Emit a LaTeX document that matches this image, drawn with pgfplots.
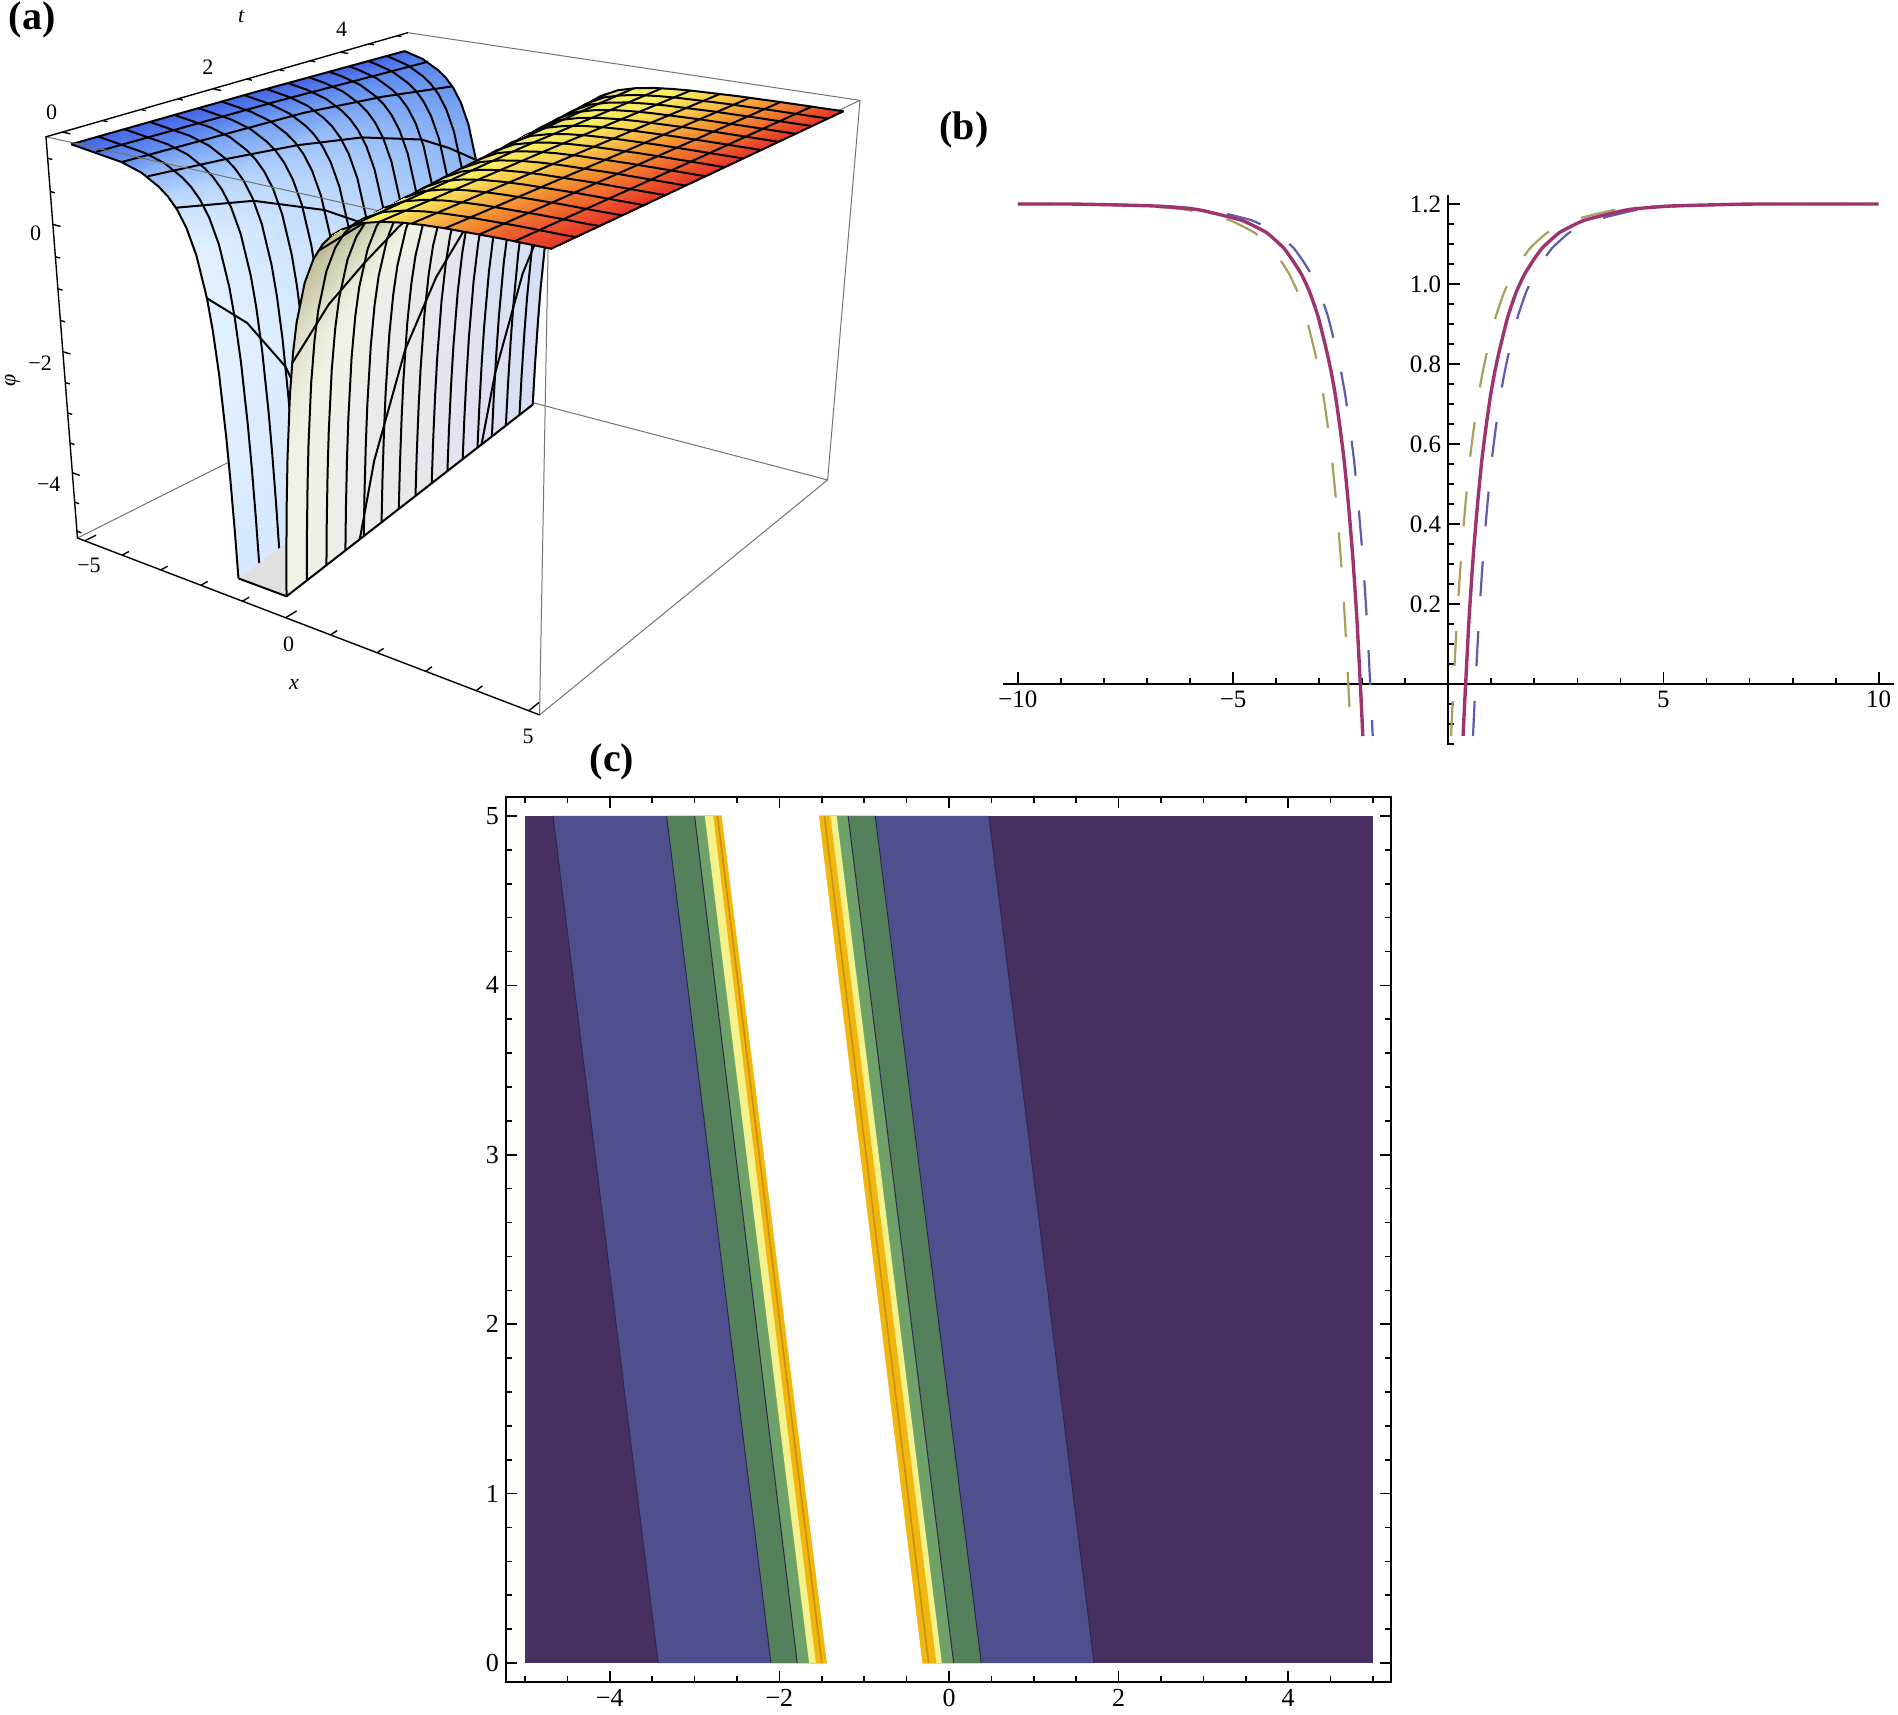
\documentclass[border=0pt]{standalone}
\usepackage{fontspec}
\setmainfont{Liberation Serif}
\usepackage{pgfplots}
\usepackage{pgfplotstable}
\pgfplotsset{compat=1.18}

% panel (a): surface, columns follow the trough, 3 points each at t=0, 2.5, 5
\pgfplotstableread{
x t phi m
-5 0 1.165 .02
-5 2.5 1.135 .02
-5 5 1.07 .02
-3.675 0 1.06 .10
-4.3 2.5 1.06 .07
-4.925 5 1.06 .03
-3.275 0 .98 .16
-3.9 2.5 .98 .11
-4.525 5 .98 .06
-2.875 0 .83 .20
-3.5 2.5 .83 .14
-4.125 5 .83 .08
-2.675 0 .72 .23
-3.3 2.5 .72 .17
-3.925 5 .72 .09
-2.475 0 .56 .26
-3.1 2.5 .56 .19
-3.725 5 .56 .10
-2.275 0 .32 .28
-2.9 2.5 .32 .21
-3.525 5 .32 .12
-2.075 0 -.05 .30
-2.7 2.5 -.05 .23
-3.325 5 -.05 .14
-1.875 0 -.66 .30
-2.5 2.5 -.66 .25
-3.125 5 -.66 .16
-1.775 0 -1.13 .30
-2.4 2.5 -1.13 .26
-3.025 5 -1.13 .18
-1.675 0 -1.79 .30
-2.3 2.5 -1.79 .27
-2.925 5 -1.79 .20
-1.575 0 -2.76 .29
-2.2 2.5 -2.76 .27
-2.825 5 -2.76 .22
-1.525 0 -3.42 .29
-2.15 2.5 -3.42 .27
-2.775 5 -3.42 .22
-1.475 0 -4.25 .28
-2.1 2.5 -4.25 .27
-2.725 5 -4.25 .22
-1.44 0 -5 .28
-2.065 2.5 -5 .27
-2.69 5 -5 .22
}\surfL
\pgfplotstableread{
x t phi m
-.31 0 -5 .50
-.935 2.5 -5 .46
-1.56 5 -5 .42
-.275 0 -4.25 .50
-.9 2.5 -4.25 .46
-1.525 5 -4.25 .42
-.225 0 -3.42 .50
-.85 2.5 -3.42 .46
-1.475 5 -3.42 .42
-.175 0 -2.76 .50
-.8 2.5 -2.76 .46
-1.425 5 -2.76 .42
-.075 0 -1.79 .51
-.7 2.5 -1.79 .46
-1.325 5 -1.79 .42
.025 0 -1.13 .52
-.6 2.5 -1.13 .46
-1.225 5 -1.13 .42
.125 0 -.66 .53
-.5 2.5 -.66 .47
-1.125 5 -.66 .42
.325 0 -.05 .55
-.3 2.5 -.05 .48
-.925 5 -.05 .42
.525 0 .32 .56
-.1 2.5 .32 .50
-.725 5 .32 .43
.725 0 .56 .57
.1 2.5 .56 .52
-.525 5 .56 .45
.925 0 .72 .60
.3 2.5 .72 .55
-.325 5 .72 .50
1.125 0 .83 .62
.5 2.5 .83 .58
-.125 5 .83 .55
}\surfW
\pgfplotstableread{
x t phi m
.925 0 .72 .60
.3 2.5 .72 .58
-.325 5 .72 .58
1.125 0 .83 .62
.5 2.5 .83 .60
-.125 5 .83 .60
1.525 0 .98 .65
.9 2.5 .98 .63
.275 5 .98 .62
1.925 0 1.06 .67
1.3 2.5 1.06 .65
.675 5 1.06 .65
2.325 0 1.11 .71
1.7 2.5 1.11 .67
1.075 5 1.11 .65
2.725 0 1.14 .75
2.1 2.5 1.14 .69
1.475 5 1.14 .65
3.125 0 1.16 .79
2.5 2.5 1.16 .72
1.875 5 1.16 .66
4.125 0 1.186 .92
3.5 2.5 1.186 .82
2.875 5 1.186 .73
5 0 1.195 1
4.375 2.5 1.195 .92
3.75 5 1.195 .82
5 0 1.195 1
5 2.5 1.2 1
5 5 1.2 1
}\surfP

% profile across the trough
\pgfplotstableread{
xi phi
-2.875 1.07
-2.4 .98
-2 .83
-1.8 .72
-1.6 .56
-1.4 .32
-1.2 -.05
-1 -.66
-.9 -1.13
-.8 -1.79
-.7 -2.76
-.65 -3.42
-.6 -4.25
-.565 -5
}\proL
\pgfplotstableread{
xi phi
.565 -5
.6 -4.25
.65 -3.42
.7 -2.76
.8 -1.79
.9 -1.13
1 -.66
1.2 -.05
1.4 .32
1.6 .56
1.8 .72
2 .83
}\proW
\pgfplotstableread{
xi phi
2 .83
2.4 .98
2.8 1.06
3.2 1.11
3.6 1.14
4 1.16
5 1.186
5.875 1.195
9 1.2
}\proP

% panel (b): x of the three curves, same y
\pgfplotstableread{
xp xb xo y
-10 -10 -10 1.2
-8.82 -8.59 -9.1 1.2
-7.82 -7.59 -8.1 1.198
-6.82 -6.59 -7.1 1.195
-5.82 -5.59 -6.1 1.186
-4.82 -4.59 -5.1 1.16
-4.42 -4.19 -4.7 1.14
-4.215 -3.985 -4.495 1.128
-4.02 -3.79 -4.3 1.11
-3.815 -3.585 -4.095 1.089
-3.62 -3.39 -3.9 1.06
-3.415 -3.185 -3.695 1.025
-3.22 -2.99 -3.5 .98
-3.02 -2.79 -3.3 .917
-2.82 -2.59 -3.1 .83
-2.72 -2.49 -3 .78
-2.62 -2.39 -2.9 .72
-2.52 -2.29 -2.8 .645
-2.42 -2.19 -2.7 .56
-2.32 -2.09 -2.6 .45
-2.22 -1.99 -2.5 .32
-2.12 -1.89 -2.4 .158
-2.02 -1.79 -2.3 -.05
-1.985 -1.755 -2.265 -.13
}\curveL
\pgfplotstableread{
xp xb xo y
.345 .575 .065 -.13
.38 .61 .1 -.05
.48 .71 .2 .158
.58 .81 .3 .32
.68 .91 .4 .45
.78 1.01 .5 .56
.88 1.11 .6 .645
.98 1.21 .7 .72
1.08 1.31 .8 .78
1.18 1.41 .9 .83
1.38 1.61 1.1 .917
1.58 1.81 1.3 .98
1.775 2.005 1.495 1.025
1.98 2.21 1.7 1.06
2.175 2.405 1.895 1.089
2.38 2.61 2.1 1.11
2.575 2.805 2.295 1.128
2.78 3.01 2.5 1.14
3.18 3.41 2.9 1.16
4.18 4.41 3.9 1.186
5.18 5.41 4.9 1.195
6.18 6.41 5.9 1.198
7.18 7.41 6.9 1.2
10 10 10 1.2
}\curveR

\definecolor{bblue}{RGB}{91,91,176}
\definecolor{bolive}{RGB}{168,159,92}
\definecolor{bpurple}{RGB}{160,50,110}
\definecolor{cpurple}{RGB}{71,48,95}
\definecolor{cblue}{RGB}{79,79,141}
\definecolor{cgreen}{RGB}{85,128,92}
\definecolor{clight}{RGB}{111,162,104}
\definecolor{cyellow}{RGB}{245,242,140}
\definecolor{corange}{RGB}{242,182,15}
\definecolor{cinner}{RGB}{196,148,14}
\definecolor{cline}{RGB}{45,40,75}

\pgfplotsset{
  table/prj/.style={x expr={prjx(\thisrow{x},\thisrow{t},\thisrow{phi})},
    y expr={prjy(\thisrow{x},\thisrow{t},\thisrow{phi})}},
  table/sec/.style={x expr={prjx(max(-5,min(5,\thisrow{xi}-.875-.25*#1)),#1,\thisrow{phi})},
    y expr={prjy(max(-5,min(5,\thisrow{xi}-.875-.25*#1)),#1,\thisrow{phi})}},
  ml/.style={black,line width=1pt,no markers,sharp plot},
  gl/.style={black!55,line width=.5pt,no markers,sharp plot},
  ax/.style={black,line width=.7pt,no markers,sharp plot},
  sh/.style={surf,shader=interp,mesh/cols=3,point meta=explicit},
  dsh/.style={line width=1.1pt,no markers,smooth,tension=.3,dash pattern=on 17.5pt off 17.5pt},
  sld/.style={bpurple,line width=1.7pt,no markers,smooth,tension=.3},
}
\newcommand\secl[2]{%
  \addplot[ml] table[sec=#1,row sep=\\]{xi phi\\-9 #2\\-2.875 1.07\\};
  \addplot[ml] table[sec=#1]{\proL};}
\newcommand\secw[1]{\addplot[ml] table[sec=#1]{\proW};}
\newcommand\secp[1]{\addplot[ml] table[sec=#1]{\proP};}
\newcommand\xl[2][ml]{\addplot[#1] table[prj,row sep=\\]{x t phi\\#2};}

\begin{document}
\begin{tikzpicture}[declare function={
    uu(\x)=(\x+5.2)/10.4;
    vv(\t)=(\t+.2)/5.4;
    ww(\p)=(\p+5.12)/6.44;
    dn(\x,\t,\p)=1-.18*uu(\x)+.2335*vv(\t)-.0767*ww(\p);
    prjx(\x,\t,\p)=(135+635.8*uu(\x)+748.2*vv(\t)-61.05*ww(\p))/dn(\x,\t,\p)
      +12*uu(\x)*vv(\t)*ww(\p);
    prjy(\x,\t,\p)=(1110+99.5*uu(\x)-166.4*vv(\t)-849.4*ww(\p))/dn(\x,\t,\p)
      +28*uu(\x)*(1-.65*vv(\t))*ww(\p)-14*(1-uu(\x))*vv(\t)*ww(\p);
  }]
\useasboundingbox (0,0) rectangle (949pt,-857pt);

% ---- (a)
\begin{axis}[at={(0pt,0pt)},anchor=north west,width=450pt,height=380pt,scale only axis,
  xmin=0,xmax=1568,ymin=0,ymax=1568,y dir=reverse,hide axis,clip=false,
  colormap={surfcol}{
    rgb255(0pt)=(60,90,230) rgb255(10pt)=(105,150,240) rgb255(20pt)=(165,200,250)
    rgb255(30pt)=(228,242,255) rgb255(40pt)=(208,216,250) rgb255(50pt)=(242,242,228)
    rgb255(56pt)=(190,188,150) rgb255(65pt)=(250,240,100) rgb255(80pt)=(245,150,50)
    rgb255(100pt)=(230,50,40)},
  point meta min=0,point meta max=1]
% box, back edges
\xl[gl]{-5.2 5.2 -5.12\\5.2 5.2 -5.12\\5.2 -.2 -5.12\\}
\xl[gl]{-5.2 -.2 -5.12\\-5.2 5.2 -5.12\\}
\xl[gl]{5.2 5.2 -5.12\\5.13 5.2 1.32\\-5.2 5.2 1.32\\}
\xl[gl]{5.13 5.2 1.32\\5.2 -.2 1.32\\5.2 -.2 -5.12\\}
% left side of the trough
\addplot[sh] table[prj,meta=m]{\surfL};
\secl{0}{1.165}\secl{0.3333}{1.162}\secl{0.6667}{1.158}\secl{1}{1.155}
\secl{1.3333}{1.15}\secl{1.6667}{1.146}\secl{2}{1.142}\secl{2.3333}{1.137}
\secl{2.6667}{1.132}\secl{3}{1.125}\secl{3.3333}{1.118}\secl{3.6667}{1.11}
\secl{4}{1.102}\secl{4.3333}{1.093}\secl{4.6667}{1.082}\secl{5}{1.07}
\xl{-5 0 1.165\\-5 2.5 1.135\\-5 5 1.07\\}
\xl{-4.375 0 1.135\\-4.375 2.5 1.07\\-4.375 3.75 1.01\\-4.375 5 .95\\}
\xl{-3.75 0 1.07\\-3.75 1.25 1.01\\-3.75 2.5 .95\\-3.75 3.75 .8\\-3.75 5 .58\\}
\xl{-3.125 0 .95\\-3.125 1 .83\\-3.125 2 .68\\-3.125 3 .45\\-3.125 4 .06\\-3.125 4.5 -.27\\-3.125 5 -.66\\}
\xl{-2.5 0 .58\\-2.5 1 .28\\-2.5 2 -.27\\-2.5 2.5 -.66\\-2.5 3 -1.28\\-2.5 3.5 -2.23\\-2.5 4 -3.81\\-2.5 4.24 -5\\}
\xl{-1.875 0 -.66\\-1.875 .5 -1.28\\-1.875 1 -2.23\\-1.875 1.5 -3.81\\-1.875 1.74 -5\\}
% box edge seen over the wall
\xl[gl]{-5.2 -.2 1.32\\5.2 -.2 1.32\\}
% floor of the cut
\addplot[fill=black!12,draw=none] table[prj]{
x t phi
-1.44 0 -5
-.31 0 -5
-1.56 5 -5
-2.69 5 -5
} -- cycle;
% right wall, seen from below the plateau
\addplot[sh] table[prj,meta=m]{\surfW};
\secw{0}\secw{0.3333}\secw{0.6667}\secw{1}\secw{1.3333}\secw{1.6667}\secw{2}\secw{2.3333}
\secw{2.6667}\secw{3}\secw{3.3333}\secw{3.6667}\secw{4}\secw{4.3333}\secw{4.6667}\secw{5}
\xl{-1.25 3.76 -5\\-1.25 4 -3.81\\-1.25 4.5 -2.23\\-1.25 5 -1.28\\}
\xl{-.625 1.26 -5\\-.625 1.5 -3.81\\-.625 2 -2.23\\-.625 2.5 -1.28\\-.625 3 -.66\\-.625 4 .06\\-.625 5 .45\\}
\xl{0 0 -1.28\\0 .5 -.66\\0 1 -.27\\0 1.5 .06\\0 2 .28\\0 3 .58\\0 3.7 .72\\}
\xl{.625 0 .45\\.625 1 .68\\.625 1.2 .72\\}
\xl{-1.44 0 -5\\-.31 0 -5\\-1.56 5 -5\\}
% plateau
\addplot[sh] table[prj,meta=m]{\surfP};
\secp{0}\secp{0.3333}\secp{0.6667}\secp{1}\secp{1.3333}\secp{1.6667}\secp{2}\secp{2.3333}
\secp{2.6667}\secp{3}\secp{3.3333}\secp{3.6667}\secp{4}\secp{4.3333}\secp{4.6667}\secp{5}
\xl{0 3.7 .72\\0 5 .88\\}
\xl{.625 1.2 .72\\.625 2 .83\\.625 3 .93\\.625 4 1\\.625 5 1.05\\}
\xl{1.25 0 .88\\1.25 2.5 1.05\\1.25 5 1.125\\}
\xl{1.875 0 1.05\\1.875 2.5 1.125\\1.875 5 1.16\\}
\xl{2.5 0 1.125\\2.5 2.5 1.16\\2.5 5 1.178\\}
\xl{3.125 0 1.16\\3.125 2.5 1.178\\3.125 5 1.19\\}
\xl{3.75 0 1.178\\3.75 2.5 1.19\\3.75 5 1.195\\}
\xl{4.375 0 1.19\\4.375 2.5 1.195\\4.375 5 1.197\\}
\xl{5 0 1.195\\5 2.5 1.2\\5 5 1.2\\}
% box, front edges with ticks
\xl[ax]{-5.2 5.2 1.32\\-5.2 -.2 1.32\\-5.2 -.2 -5.12\\5.2 -.2 -5.12\\}
\pgfplotsinvokeforeach{-5,0,5}{\xl[ax]{#1 -.2 -5.12\\#1 -.05 -5.12\\}}
\pgfplotsinvokeforeach{-4,-3,-2,-1,1,2,3,4}{\xl[ax]{#1 -.2 -5.12\\#1 -.11 -5.12\\}}
\pgfplotsinvokeforeach{0,2,4}{\xl[ax]{-5.2 #1 1.32\\-5 #1 1.32\\}}
\pgfplotsinvokeforeach{.5,1,1.5,2.5,3,3.5,4.5,5}{\xl[ax]{-5.2 #1 1.32\\-5.08 #1 1.32\\}}
\pgfplotsinvokeforeach{0,-2,-4}{\xl[ax]{-5.2 -.2 #1\\-5 -.2 #1\\}}
\pgfplotsinvokeforeach{1,.5,-.5,-1,-1.5,-2.5,-3,-3.5,-4.5,-5}{\xl[ax]{-5.2 -.2 #1\\-5.08 -.2 #1\\}}
\begin{scope}[every node/.style={font=\fontsize{11}{11}\selectfont,inner sep=0pt}]
\node at (axis cs:90,232) {0};
\node at (axis cs:362,138) {2};
\node at (axis cs:595,60) {4};
\node at (axis cs:420,33) {\itshape t};
\node at (axis cs:62,482) {0};
\node at (axis cs:70,750) {−2};
\node at (axis cs:85,1000) {−4};
\node[rotate=90] at (axis cs:22,785) {\itshape φ};
\node at (axis cs:155,1167) {−5};
\node at (axis cs:503,1330) {0};
\node at (axis cs:920,1520) {5};
\node at (axis cs:512,1412) {\itshape x};
\end{scope}
\end{axis}

% ---- (b)
\begin{axis}[at={(501.25pt,-97.5pt)},anchor=north west,width=445.75pt,height=275pt,scale only axis,
  xmin=-10.356,xmax=10.356,ymin=-.1525,ymax=1.2225,
  axis x line=center,axis y line=center,axis line style={-,line width=1pt},
  xlabel={},ylabel={},tick align=inside,
  tick style={black,line width=.9pt},major tick length=6pt,minor tick length=3pt,
  xtick={-10,-5,5,10},xticklabels={−10,−5,5,10},
  minor xtick={-9,-8,-7,-6,-4,-3,-2,-1,1,2,3,4,6,7,8,9},
  ytick={.2,.4,.6,.8,1,1.2},yticklabels={0.2,0.4,0.6,0.8,1.0,1.2},
  minor ytick={-.15,-.1,-.05,.05,.1,.15,.25,.3,.35,.45,.5,.55,.65,.7,.75,.85,.9,.95,1.05,1.1,1.15},
  tick label style={font=\fontsize{12.5}{12.5}\selectfont},
  clip=false]
\addplot[bblue,dsh] table[x=xb,y=y]{\curveL};
\addplot[bolive,dsh] table[x=xo,y=y]{\curveL};
\addplot[bblue,dsh] table[x=xb,y=y]{\curveR};
\addplot[bolive,dsh] table[x=xo,y=y]{\curveR};
\addplot[sld] table[x=xp,y=y]{\curveL};
\addplot[sld] table[x=xp,y=y]{\curveR};
\end{axis}

% ---- (c)
\begin{axis}[at={(253pt,-398.5pt)},anchor=north west,width=442.5pt,height=442.5pt,scale only axis,
  xmin=-5.224,xmax=5.212,ymin=-.112,ymax=5.112,
  axis line style={line width=1pt},
  tick style={black,line width=.8pt},major tick length=5.5pt,minor tick length=3pt,tick align=inside,
  xtick={-4,-2,0,2,4},xticklabels={−4,−2,0,2,4},
  minor xtick={-5,-4.5,-3.5,-3,-2.5,-1.5,-1,-.5,.5,1,1.5,2.5,3,3.5,4.5,5},
  ytick={0,1,2,3,4,5},
  minor ytick={.2,.4,.6,.8,1.2,1.4,1.6,1.8,2.2,2.4,2.6,2.8,3.2,3.4,3.6,3.8,4.2,4.4,4.6,4.8},
  tick label style={font=\fontsize{13}{13}\selectfont},
  /pgf/number format/assume math mode=true,
  axis on top]
\addplot[fill=cpurple,draw=none] coordinates {(-5,0) (5,0) (5,5) (-5,5)} -- cycle;
\addplot[fill=cblue,draw=none] coordinates {(-3.43,0) (1.71,0) (.47,5) (-4.67,5)} -- cycle;
\addplot[fill=cgreen,draw=none] coordinates {(-2.10,0) (.38,0) (-.87,5) (-3.33,5)} -- cycle;
\addplot[fill=clight,draw=none] coordinates {(-1.79,0) (.055,0) (-1.19,5) (-3.00,5)} -- cycle;
\addplot[fill=cyellow,draw=none] coordinates {(-1.65,0) (-.085,0) (-1.325,5) (-2.88,5)} -- cycle;
\addplot[fill=corange,draw=none] coordinates {(-1.57,0) (-.15,0) (-1.40,5) (-2.78,5)} -- cycle;
\addplot[fill=white,draw=none] coordinates {(-1.4375,-.01) (-.3125,-.01) (-1.5375,5.01) (-2.6825,5.01)} -- cycle;
\addplot[cline,line width=.5pt] coordinates {(-3.43,0) (-4.67,5)};
\addplot[cline,line width=.5pt] coordinates {(-2.10,0) (-3.33,5)};
\addplot[cline,line width=.5pt] coordinates {(-1.79,0) (-3.00,5)};
\addplot[cline,line width=.5pt] coordinates {(.055,0) (-1.19,5)};
\addplot[cline,line width=.5pt] coordinates {(.38,0) (-.87,5)};
\addplot[cline,line width=.5pt] coordinates {(1.71,0) (.47,5)};
\addplot[cinner,line width=.8pt] coordinates {(-1.50,0) (-2.73,5)};
\addplot[cinner,line width=.8pt] coordinates {(-.24,0) (-1.47,5)};
\end{axis}

\begin{scope}[every node/.style={font=\fontsize{20}{20}\selectfont\bfseries,inner sep=0pt}]
\node at (16pt,-10pt) {(a)};
\node at (482pt,-65pt) {(b)};
\node at (306pt,-381pt) {(c)};
\end{scope}
\end{tikzpicture}
\end{document}
